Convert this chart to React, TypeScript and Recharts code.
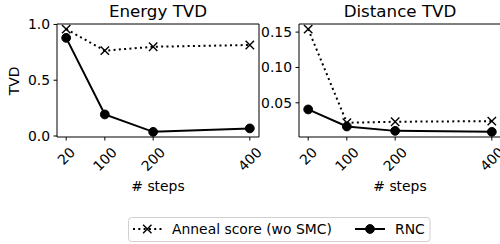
import React from 'react';
import { LineChart, Line, XAxis, YAxis, ReferenceLine } from 'recharts';

const steps = [20, 100, 200, 400];
const energyAnneal = [0.958, 0.765, 0.8, 0.816];
const energyRnc = [0.88, 0.193, 0.037, 0.068];
const distanceAnneal = [0.1542, 0.0218, 0.0232, 0.0241];
const distanceRnc = [0.0406, 0.0165, 0.0103, 0.0089];
const energyTicks = [0, 0.5, 1.0];
const distanceTicks = [0.05, 0.1, 0.15];

const FONT = 'DejaVu Sans';
const FS = 13.9;

// matplotlib-style 5% margins
function padDomain(values: number[]): [number, number] {
  const lo = Math.min(...values);
  const hi = Math.max(...values);
  const m = (hi - lo) * 0.05;
  return [lo - m, hi + m];
}

const xDomain = padDomain(steps);
const energyData = steps.map((s, i) => ({ step: s, anneal: energyAnneal[i], rnc: energyRnc[i] }));
const distanceData = steps.map((s, i) => ({ step: s, anneal: distanceAnneal[i], rnc: distanceRnc[i] }));

function RotTick(props: any) {
  const { x, y, payload } = props;
  const label = String(payload.value);
  const w = label.length * 0.636 * FS;
  const h = 1.164 * FS;
  const cy = y + ((w + h) * 0.7071) / 2;
  return (
    <text
      x={x}
      y={cy}
      transform={`rotate(-45 ${x} ${cy})`}
      textAnchor="middle"
      dominantBaseline="central"
      fontSize={FS}
      fontFamily={FONT}
      fill="#000"
    >
      {label}
    </text>
  );
}

function XDot(props: any) {
  const { cx, cy, index } = props;
  const s = 4.2;
  return (
    <path
      key={`xd-${index}`}
      d={`M${cx - s},${cy - s}L${cx + s},${cy + s}M${cx - s},${cy + s}L${cx + s},${cy - s}`}
      stroke="#000"
      strokeWidth={1.4}
      fill="none"
    />
  );
}

function Panel({ data, ticks, digits, yWidth }: { data: any[]; ticks: number[]; digits: number; yWidth: number }) {
  const yDomain = padDomain([...data.map((d) => d.anneal), ...data.map((d) => d.rnc)]);
  const axisLine = { stroke: '#000', strokeWidth: 1 };
  return (
    <LineChart width={yWidth + 202 + 11} height={205} data={data} margin={{ top: 24, right: 11, left: 0, bottom: 0 }}>
      <XAxis
        dataKey="step"
        type="number"
        domain={xDomain}
        ticks={steps}
        allowDataOverflow
        height={68}
        tickSize={3.5}
        tickMargin={3.5}
        axisLine={axisLine}
        tickLine={axisLine}
        tick={<RotTick />}
        interval={0}
      />
      <YAxis
        type="number"
        domain={yDomain}
        ticks={ticks}
        allowDataOverflow
        width={yWidth}
        tickSize={3.5}
        tickMargin={3.5}
        axisLine={axisLine}
        tickLine={axisLine}
        tickFormatter={(v: number) => v.toFixed(digits)}
        tick={{ fontSize: FS, fontFamily: FONT, fill: '#000' }}
        interval={0}
      />
      {/* top and right spines */}
      <ReferenceLine y={yDomain[1]} stroke="#000" strokeWidth={1} ifOverflow="visible" />
      <ReferenceLine x={xDomain[1]} stroke="#000" strokeWidth={1} ifOverflow="visible" />
      <Line
        dataKey="anneal"
        type="linear"
        stroke="#000"
        strokeWidth={2}
        strokeDasharray="2 3.3"
        dot={(p: any) => <XDot {...p} key={`xd-${p.index}`} />}
        activeDot={false}
        isAnimationActive={false}
      />
      <Line
        dataKey="rnc"
        type="linear"
        stroke="#000"
        strokeWidth={2}
        dot={{ r: 4.4, fill: '#000', stroke: '#000', strokeWidth: 1 }}
        activeDot={false}
        isAnimationActive={false}
      />
    </LineChart>
  );
}

export default function App() {
  const text = { fontFamily: FONT, fill: '#000' };
  return (
    <div style={{ position: 'absolute', left: 0, top: 0, width: 500, height: 244, overflow: 'hidden', background: '#fff' }}>
      <div style={{ position: 'absolute', left: 0, top: 0 }}>
        <Panel data={energyData} ticks={energyTicks} digits={1} yWidth={57} />
      </div>
      <div style={{ position: 'absolute', left: 250, top: 0 }}>
        <Panel data={distanceData} ticks={distanceTicks} digits={2} yWidth={49} />
      </div>
      <svg width={500} height={244} style={{ position: 'absolute', left: 0, top: 0, pointerEvents: 'none' }}>
        {/* titles and axis labels */}
        <text x={158} y={17} textAnchor="middle" fontSize={16.7} {...text}>Energy TVD</text>
        <text x={400} y={17} textAnchor="middle" fontSize={16.7} {...text}>Distance TVD</text>
        <text x={158} y={191} textAnchor="middle" fontSize={FS} {...text}># steps</text>
        <text x={400} y={191} textAnchor="middle" fontSize={FS} {...text}># steps</text>
        <text x={18.5} y={81} textAnchor="middle" fontSize={FS} transform="rotate(-90 18.5 81)" {...text}>TVD</text>
        {/* legend */}
        <rect x={128.5} y={217.5} width={301.5} height={24} rx={3} fill="#fff" stroke="#d0d0d0" strokeWidth={1} />
        <line x1={133} y1={229} x2={162} y2={229} stroke="#000" strokeWidth={2} strokeDasharray="2 3.3" />
        <path d="M143.1,224.8L151.5,233.2M143.1,233.2L151.5,224.8" stroke="#000" strokeWidth={1.4} />
        <text x={172} y={233.5} fontSize={FS} {...text}>Anneal score (wo SMC)</text>
        <line x1={355} y1={229} x2={385} y2={229} stroke="#000" strokeWidth={2} />
        <circle cx={370} cy={229} r={4.4} fill="#000" stroke="#000" strokeWidth={1} />
        <text x={395} y={233.5} fontSize={FS} {...text}>RNC</text>
      </svg>
    </div>
  );
}
